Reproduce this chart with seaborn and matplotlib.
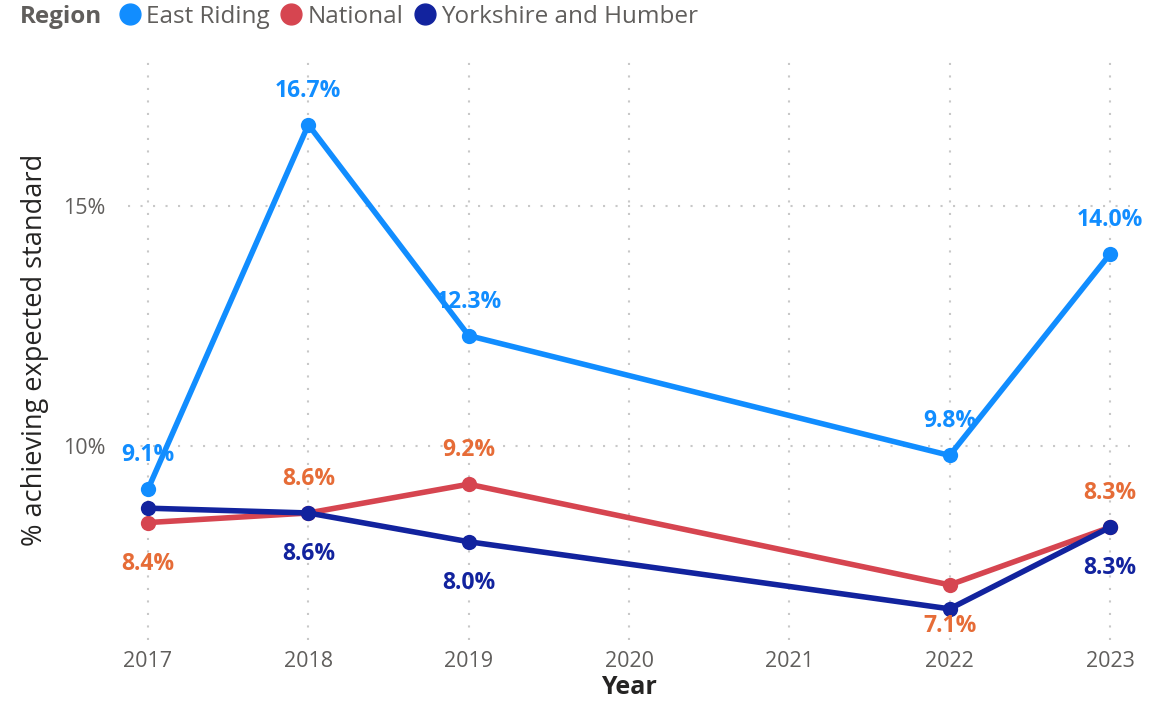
import pandas as pd
import numpy as np
import matplotlib.pyplot as plt
import seaborn as sns
from matplotlib.lines import Line2D

years = [2017, 2018, 2019, 2022, 2023]
east_riding = [9.1, 16.7, 12.3, 9.8, 14.0]
national = [8.4, 8.6, 9.2, 7.1, 8.3]
yorkshire = [8.7, 8.6, 8.0, 6.6, 8.3]
regions = ["East Riding", "National", "Yorkshire and Humber"]

df = pd.DataFrame({
    "Year": years * 3,
    "Value": east_riding + national + yorkshire,
    "Region": [regions[0]] * 5 + [regions[1]] * 5 + [regions[2]] * 5,
})

palette = {"East Riding": "#118DFF", "National": "#D64550", "Yorkshire and Humber": "#12239E"}
label_col = {"East Riding": "#118DFF", "National": "#E66C37", "Yorkshire and Humber": "#12239E"}
# label placement per point: 1 above, -1 below, 0 hidden
placement = {
    "East Riding": [1, 1, 1, 1, 1],
    "National": [-1, 1, 1, -1, 1],
    "Yorkshire and Humber": [0, -1, -1, 0, -1],
}

sns.set_style("white")
plt.rcParams['font.family'] = ['Open Sans', 'DejaVu Sans']

fig = plt.figure(figsize=(11.6, 7.1), dpi=100)
ax = fig.add_axes([128 / 1160, 70 / 710, 1002 / 1160, 580 / 710])

sns.lineplot(data=df, x="Year", y="Value", hue="Region", palette=palette, marker="o",
             markersize=11, markeredgewidth=0, linewidth=4, ax=ax, legend=False)

for r in regions:
    sub = df[df["Region"] == r]
    for (yr, v), p in zip(zip(sub["Year"], sub["Value"]), placement[r]):
        if p == 0:
            continue
        off = 34 if p > 0 else -41
        ax.annotate(f"{v:.1f}%", (yr, v), xytext=(0, off), textcoords="offset pixels",
                    ha="center", va="center", fontsize=16.5, fontweight="bold", color=label_col[r])

ax.set_xlim(2016.875, 2023.125)
ax.set_ylim(5.95, 18.05)
ax.set_xticks(range(2017, 2024))
ax.set_yticks([10, 15])
ax.set_yticklabels(["10%", "15%"])
ax.tick_params(axis="both", length=0, labelsize=15.5, labelcolor="#605E5C", pad=8)
ax.tick_params(axis="y", pad=16)
ax.grid(True, linestyle=(0, (1, 5)), color="#C8C8C8", linewidth=1.5)
for s in ax.spines.values():
    s.set_visible(False)
ax.set_xlabel("Year", fontsize=18, fontweight="bold", color="#252423", labelpad=2)
ax.set_ylabel("% achieving expected standard", fontsize=19.5, color="#252423", labelpad=10)

fig.text(20 / 1160, 1 - 17 / 710, "Region", fontsize=17.5, fontweight="bold", color="#605E5C", va="center")
handles = [Line2D([], [], marker="o", linestyle="", markersize=15, color=palette[r]) for r in regions]
fig.legend(handles, regions, loc="center left", bbox_to_anchor=(118 / 1160, 1 - 17 / 710), ncol=3,
           frameon=False, fontsize=17.5, handletextpad=0.15, columnspacing=0.4, labelcolor="#605E5C",
           borderaxespad=0, borderpad=0, handlelength=1.0)

fig.savefig("out.png", dpi=100)
